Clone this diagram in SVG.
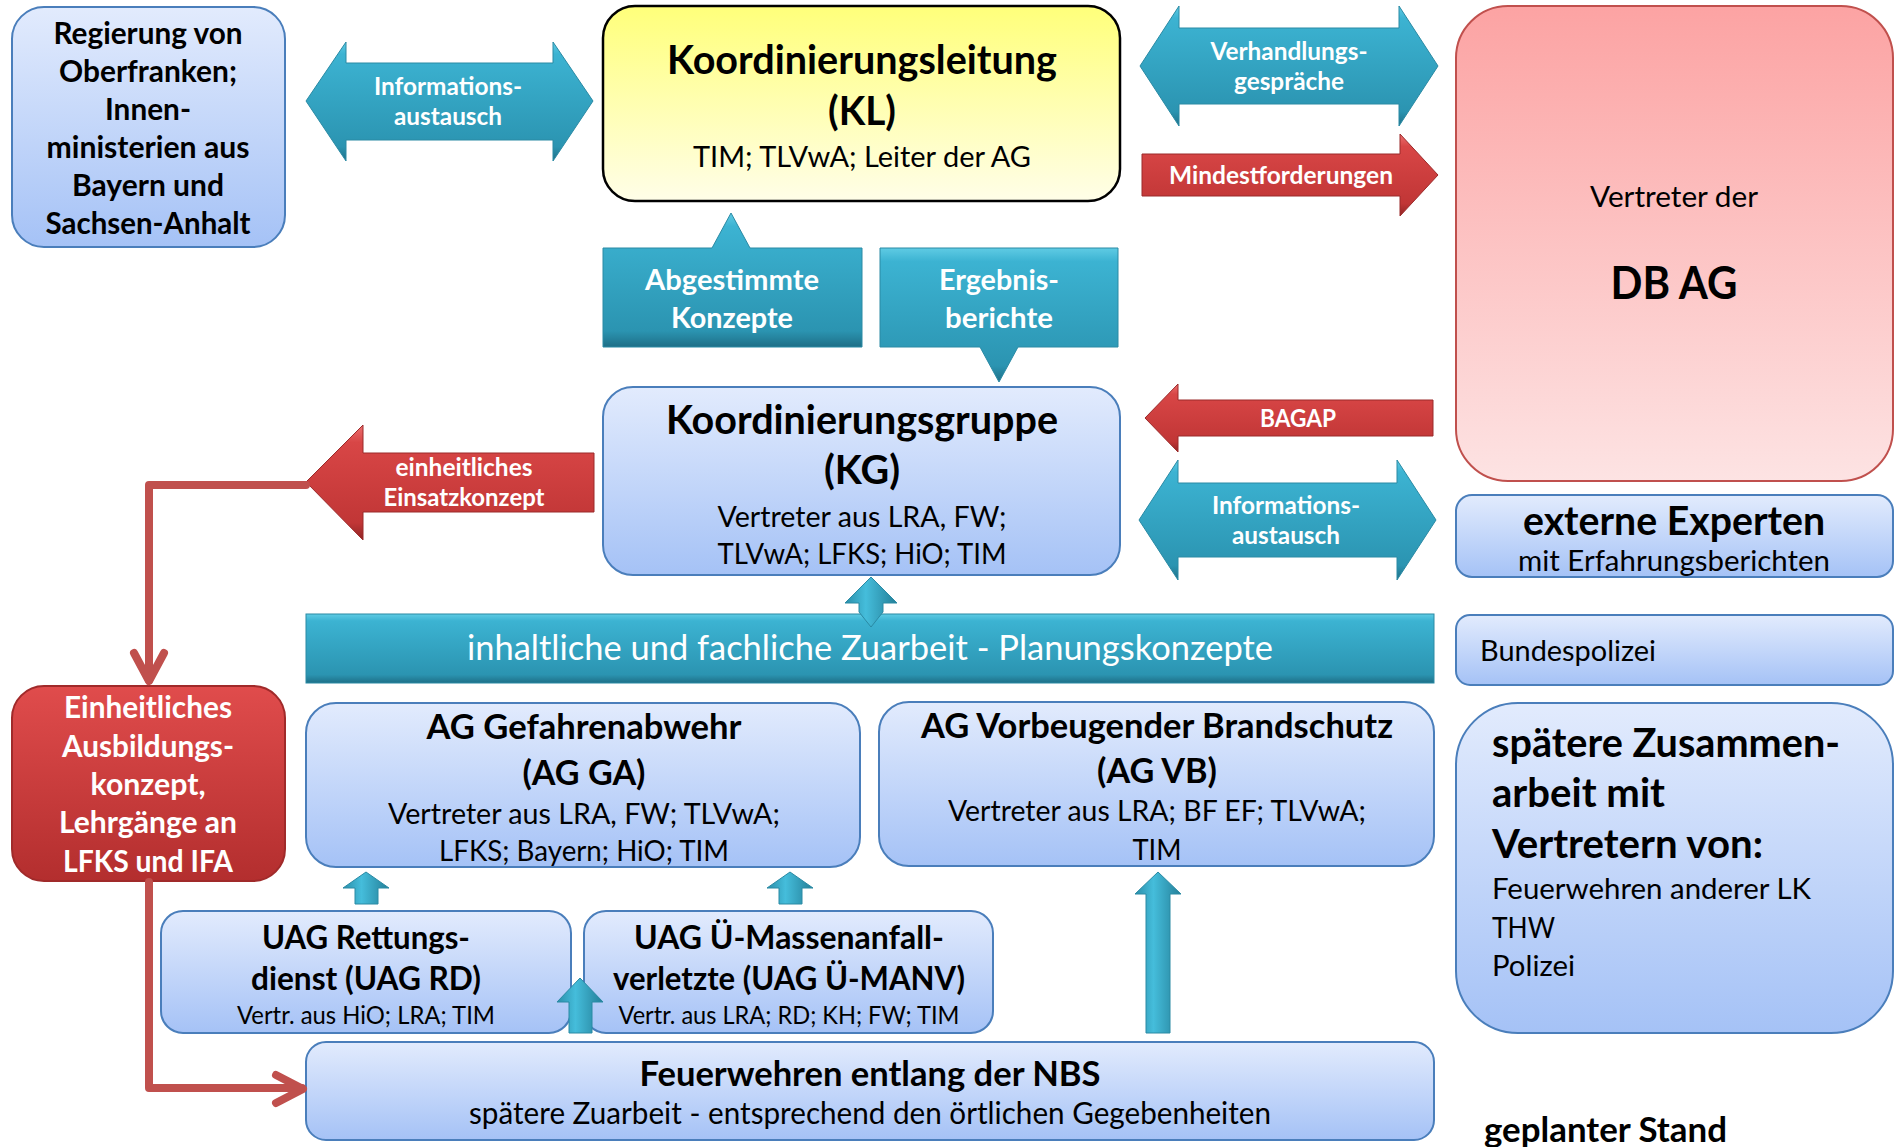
<svg xmlns="http://www.w3.org/2000/svg" width="1895" height="1147" viewBox="0 0 1895 1147">
<defs>
<linearGradient id="gBlue" x1="0" y1="0" x2="0" y2="1"><stop offset="0" stop-color="#e2ebfd"/><stop offset="1" stop-color="#a5c2f6"/></linearGradient>
<linearGradient id="gYellow" x1="0" y1="0" x2="0" y2="1"><stop offset="0" stop-color="#ffff7a"/><stop offset="1" stop-color="#fffee8"/></linearGradient>
<linearGradient id="gPink" x1="0" y1="0" x2="0" y2="1"><stop offset="0" stop-color="#fca3a3"/><stop offset="1" stop-color="#fde3e3"/></linearGradient>
<linearGradient id="gRedBox" x1="0" y1="0" x2="0" y2="1"><stop offset="0" stop-color="#e04c4c"/><stop offset="1" stop-color="#b32e2e"/></linearGradient>
<linearGradient id="gTeal" x1="0" y1="0" x2="0" y2="1"><stop offset="0" stop-color="#5fcbe4"/><stop offset="0.1" stop-color="#3cb3d2"/><stop offset="0.88" stop-color="#2b94b1"/><stop offset="1" stop-color="#1e6f87"/></linearGradient>
<linearGradient id="gRed" x1="0" y1="0" x2="0" y2="1"><stop offset="0" stop-color="#ec7070"/><stop offset="0.15" stop-color="#d84646"/><stop offset="0.85" stop-color="#c13636"/><stop offset="1" stop-color="#8f2424"/></linearGradient>
<linearGradient id="gTealV" x1="0" y1="0" x2="1" y2="0"><stop offset="0" stop-color="#2a8ea9"/><stop offset="0.4" stop-color="#45bddb"/><stop offset="1" stop-color="#247f98"/></linearGradient>
</defs>
<style>
.blue{fill:url(#gBlue);stroke:#4a7ebb;stroke-width:2}
.teal{fill:url(#gTeal);stroke:#2a8aa4;stroke-width:1}
.tealv{fill:url(#gTealV);stroke:#2a8aa4;stroke-width:1}
.red{fill:url(#gRed);stroke:#9b2a2a;stroke-width:1}
.link{fill:none;stroke:#c0504d;stroke-width:8;stroke-linejoin:round;stroke-linecap:round}
text{font-family:Lato,"Open Sans","Liberation Sans",sans-serif;fill:#000}
.b{font-weight:700}
.r{font-weight:400}
.m{text-anchor:middle}
.w{fill:#fff}
</style>

<g id="node-regierung">
  <rect class="blue" x="12" y="7" width="273" height="240" rx="32"/>
  <text class="b m" x="148" y="44" font-size="30" textLength="189" lengthAdjust="spacingAndGlyphs">Regierung von</text>
  <text class="b m" x="148" y="82" font-size="30" textLength="178" lengthAdjust="spacingAndGlyphs">Oberfranken;</text>
  <text class="b m" x="148" y="120" font-size="30" textLength="86" lengthAdjust="spacingAndGlyphs">Innen-</text>
  <text class="b m" x="148" y="158" font-size="30" textLength="203" lengthAdjust="spacingAndGlyphs">ministerien aus</text>
  <text class="b m" x="148" y="196" font-size="30" textLength="152" lengthAdjust="spacingAndGlyphs">Bayern und</text>
  <text class="b m" x="148" y="234" font-size="30" textLength="205" lengthAdjust="spacingAndGlyphs">Sachsen-Anhalt</text>
</g>

<g id="node-kl">
  <rect x="603" y="6" width="517" height="195" rx="32" fill="url(#gYellow)" stroke="#000" stroke-width="2.5"/>
  <text class="b m" x="862" y="74" font-size="40" textLength="390" lengthAdjust="spacingAndGlyphs">Koordinierungsleitung</text>
  <text class="b m" x="862" y="125" font-size="40" textLength="68" lengthAdjust="spacingAndGlyphs">(KL)</text>
  <text class="r m" x="862" y="167" font-size="29" textLength="338" lengthAdjust="spacingAndGlyphs">TIM; TLVwA; Leiter der AG</text>
</g>

<g id="node-abgestimmte">
  <path class="teal" d="M603,248 H712 L731,213 L750,248 H862 V347 H603 Z"/>
  <text class="b m w" x="732" y="290" font-size="29" textLength="174" lengthAdjust="spacingAndGlyphs">Abgestimmte</text>
  <text class="b m w" x="732" y="328" font-size="29" textLength="122" lengthAdjust="spacingAndGlyphs">Konzepte</text>
</g>

<g id="node-ergebnis">
  <path class="teal" d="M880,248 H1118 V347 H1018 L999,382 L980,347 H880 Z"/>
  <text class="b m w" x="999" y="290" font-size="29" textLength="120" lengthAdjust="spacingAndGlyphs">Ergebnis-</text>
  <text class="b m w" x="999" y="328" font-size="29" textLength="108" lengthAdjust="spacingAndGlyphs">berichte</text>
</g>

<g id="node-dbag">
  <rect x="1456" y="6" width="437" height="475" rx="52" fill="url(#gPink)" stroke="#c0504d" stroke-width="2"/>
  <text class="r m" x="1674" y="207" font-size="29" textLength="168" lengthAdjust="spacingAndGlyphs">Vertreter der</text>
  <text class="b m" x="1674" y="299" font-size="46" textLength="127" lengthAdjust="spacingAndGlyphs">DB AG</text>
</g>

<g id="node-kg">
  <rect class="blue" x="603" y="387" width="517" height="188" rx="30"/>
  <text class="b m" x="862" y="434" font-size="40" textLength="392" lengthAdjust="spacingAndGlyphs">Koordinierungsgruppe</text>
  <text class="b m" x="862" y="484" font-size="40" textLength="76" lengthAdjust="spacingAndGlyphs">(KG)</text>
  <text class="r m" x="862" y="527" font-size="29" textLength="289" lengthAdjust="spacingAndGlyphs">Vertreter aus LRA, FW;</text>
  <text class="r m" x="862" y="564" font-size="29" textLength="289" lengthAdjust="spacingAndGlyphs">TLVwA; LFKS; HiO; TIM</text>
</g>

<g id="node-experten">
  <rect class="blue" x="1456" y="495" width="437" height="82" rx="16"/>
  <text class="b m" x="1674" y="535" font-size="40" textLength="302" lengthAdjust="spacingAndGlyphs">externe Experten</text>
  <text class="r m" x="1674" y="571" font-size="29" textLength="312" lengthAdjust="spacingAndGlyphs">mit Erfahrungsberichten</text>
</g>

<g id="node-zuarbeit">
  <rect class="teal" x="306" y="614" width="1128" height="69"/>
  <text class="r m w" x="870" y="660" font-size="35" textLength="806" lengthAdjust="spacingAndGlyphs">inhaltliche und fachliche Zuarbeit - Planungskonzepte</text>
</g>

<g id="node-bundespolizei">
  <rect class="blue" x="1456" y="615" width="437" height="70" rx="14"/>
  <text class="r" x="1480" y="661" font-size="29" textLength="176" lengthAdjust="spacingAndGlyphs">Bundespolizei</text>
</g>

<g id="node-ausbildung">
  <rect x="12" y="686" width="273" height="195" rx="32" fill="url(#gRedBox)" stroke="#a02a2a" stroke-width="2"/>
  <text class="b m w" x="148" y="718" font-size="30" textLength="168" lengthAdjust="spacingAndGlyphs">Einheitliches</text>
  <text class="b m w" x="148" y="757" font-size="30" textLength="172" lengthAdjust="spacingAndGlyphs">Ausbildungs-</text>
  <text class="b m w" x="148" y="795" font-size="30" textLength="115" lengthAdjust="spacingAndGlyphs">konzept,</text>
  <text class="b m w" x="148" y="833" font-size="30" textLength="178" lengthAdjust="spacingAndGlyphs">Lehrgänge an</text>
  <text class="b m w" x="148" y="872" font-size="30" textLength="170" lengthAdjust="spacingAndGlyphs">LFKS und IFA</text>
</g>

<g id="node-ag-ga">
  <rect class="blue" x="306" y="703" width="554" height="164" rx="30"/>
  <text class="b m" x="584" y="739" font-size="35" textLength="315" lengthAdjust="spacingAndGlyphs">AG Gefahrenabwehr</text>
  <text class="b m" x="584" y="785" font-size="35" textLength="123" lengthAdjust="spacingAndGlyphs">(AG GA)</text>
  <text class="r m" x="584" y="824" font-size="29" textLength="392" lengthAdjust="spacingAndGlyphs">Vertreter aus LRA, FW; TLVwA;</text>
  <text class="r m" x="584" y="861" font-size="29" textLength="290" lengthAdjust="spacingAndGlyphs">LFKS; Bayern; HiO; TIM</text>
</g>

<g id="node-ag-vb">
  <rect class="blue" x="879" y="702" width="555" height="164" rx="30"/>
  <text class="b m" x="1157" y="738" font-size="35" textLength="472" lengthAdjust="spacingAndGlyphs">AG Vorbeugender Brandschutz</text>
  <text class="b m" x="1157" y="783" font-size="35" textLength="120" lengthAdjust="spacingAndGlyphs">(AG VB)</text>
  <text class="r m" x="1157" y="821" font-size="29" textLength="418" lengthAdjust="spacingAndGlyphs">Vertreter aus LRA; BF EF; TLVwA;</text>
  <text class="r m" x="1157" y="860" font-size="29" textLength="49" lengthAdjust="spacingAndGlyphs">TIM</text>
</g>

<g id="node-spaetere">
  <rect class="blue" x="1456" y="703" width="437" height="330" rx="62"/>
  <text class="b" x="1492" y="757" font-size="40" textLength="348" lengthAdjust="spacingAndGlyphs">spätere Zusammen-</text>
  <text class="b" x="1492" y="807" font-size="40" textLength="173" lengthAdjust="spacingAndGlyphs">arbeit mit</text>
  <text class="b" x="1492" y="858" font-size="40" textLength="271" lengthAdjust="spacingAndGlyphs">Vertretern von:</text>
  <text class="r" x="1492" y="899" font-size="29" textLength="319" lengthAdjust="spacingAndGlyphs">Feuerwehren anderer LK</text>
  <text class="r" x="1492" y="938" font-size="29" textLength="63" lengthAdjust="spacingAndGlyphs">THW</text>
  <text class="r" x="1492" y="976" font-size="29" textLength="83" lengthAdjust="spacingAndGlyphs">Polizei</text>
</g>

<g id="node-uag-rd">
  <rect class="blue" x="161" y="911" width="410" height="122" rx="22"/>
  <text class="b m" x="366" y="949" font-size="32" textLength="208" lengthAdjust="spacingAndGlyphs">UAG Rettungs-</text>
  <text class="b m" x="366" y="990" font-size="32" textLength="230" lengthAdjust="spacingAndGlyphs">dienst (UAG RD)</text>
  <text class="r m" x="366" y="1024" font-size="25" textLength="258" lengthAdjust="spacingAndGlyphs">Vertr. aus HiO; LRA; TIM</text>
</g>

<g id="node-uag-manv">
  <rect class="blue" x="584" y="911" width="409" height="122" rx="22"/>
  <text class="b m" x="789" y="949" font-size="32" textLength="310" lengthAdjust="spacingAndGlyphs">UAG Ü-Massenanfall-</text>
  <text class="b m" x="789" y="990" font-size="32" textLength="352" lengthAdjust="spacingAndGlyphs">verletzte (UAG Ü-MANV)</text>
  <text class="r m" x="789" y="1024" font-size="25" textLength="341" lengthAdjust="spacingAndGlyphs">Vertr. aus LRA; RD; KH; FW; TIM</text>
</g>

<g id="node-feuerwehren">
  <rect class="blue" x="306" y="1042" width="1128" height="98" rx="20"/>
  <text class="b m" x="870" y="1086" font-size="35" textLength="461" lengthAdjust="spacingAndGlyphs">Feuerwehren entlang der NBS</text>
  <text class="r m" x="870" y="1124" font-size="30" textLength="802" lengthAdjust="spacingAndGlyphs">spätere Zuarbeit - entsprechend den örtlichen Gegebenheiten</text>
</g>

<g id="label-stand">
  <text class="b" x="1484" y="1142" font-size="35" textLength="243" lengthAdjust="spacingAndGlyphs">geplanter Stand</text>
</g>

<g id="connectors">
  <g id="arrow-info-left">
    <polygon class="teal" points="306,101 346,42 346,63 553,63 553,42 593,101 553,161 553,140 346,140 346,161"/>
    <text class="b m w" x="448" y="95" font-size="25" textLength="148" lengthAdjust="spacingAndGlyphs">Informations-</text>
    <text class="b m w" x="448" y="125" font-size="25" textLength="108" lengthAdjust="spacingAndGlyphs">austausch</text>
  </g>
  <g id="arrow-verhandlung">
    <polygon class="teal" points="1140,66 1179,6 1179,28 1399,28 1399,6 1438,66 1399,126 1399,104 1179,104 1179,126"/>
    <text class="b m w" x="1289" y="60" font-size="25" textLength="157" lengthAdjust="spacingAndGlyphs">Verhandlungs-</text>
    <text class="b m w" x="1289" y="90" font-size="25" textLength="110" lengthAdjust="spacingAndGlyphs">gespräche</text>
  </g>
  <g id="arrow-mindest">
    <polygon class="red" points="1142,154 1400,154 1400,134 1438,175 1400,216 1400,196 1142,196"/>
    <text class="b m w" x="1281" y="184" font-size="25" textLength="224" lengthAdjust="spacingAndGlyphs">Mindestforderungen</text>
  </g>
  <g id="arrow-bagap">
    <polygon class="red" points="1145,418 1178,384 1178,400 1433,400 1433,436 1178,436 1178,452"/>
    <text class="b m w" x="1298" y="427" font-size="25" textLength="76" lengthAdjust="spacingAndGlyphs">BAGAP</text>
  </g>
  <g id="arrow-info-right">
    <polygon class="teal" points="1139,520 1178,460 1178,483 1397,483 1397,460 1436,520 1397,580 1397,557 1178,557 1178,580"/>
    <text class="b m w" x="1286" y="514" font-size="25" textLength="148" lengthAdjust="spacingAndGlyphs">Informations-</text>
    <text class="b m w" x="1286" y="544" font-size="25" textLength="108" lengthAdjust="spacingAndGlyphs">austausch</text>
  </g>
  <g id="arrow-einsatz">
    <polygon class="red" points="306,482 363,425 363,453 594,453 594,512 363,512 363,540"/>
    <text class="b m w" x="464" y="476" font-size="25" textLength="137" lengthAdjust="spacingAndGlyphs">einheitliches</text>
    <text class="b m w" x="464" y="506" font-size="25" textLength="161" lengthAdjust="spacingAndGlyphs">Einsatzkonzept</text>
  </g>
  <path class="link" d="M306,485 H149 V680"/>
  <polyline class="link" points="134,653 149,681 164,653"/>
  <path class="link" d="M149,882 V1088 H302"/>
  <polyline class="link" points="276,1075 303,1089 276,1103"/>
  <polygon class="tealv" points="871,577 897,603 883,603 883,612 871,627 859,612 859,603 845,603"/>
  <polygon class="tealv" points="366,872 389,888 378,888 378,904 355,904 355,888 343,888"/>
  <polygon class="tealv" points="790,872 813,888 802,888 802,904 779,904 779,888 767,888"/>
  <polygon class="tealv" points="580,978 603,1002 592,1002 592,1033 569,1033 569,1002 557,1002"/>
  <polygon class="tealv" points="1158,872 1181,894 1170,894 1170,1033 1146,1033 1146,894 1135,894"/>
</g>
</svg>
